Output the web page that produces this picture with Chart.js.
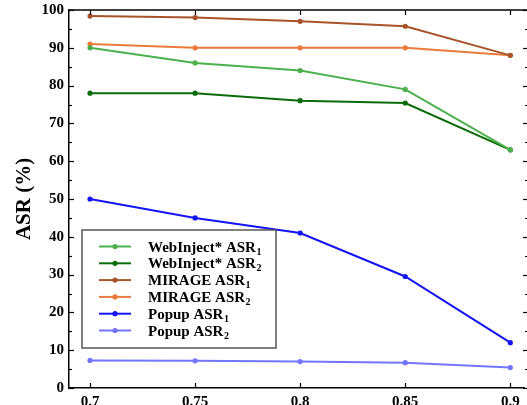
<!DOCTYPE html>
<html><head><meta charset="utf-8">
<script src="https://cdn.jsdelivr.net/npm/chart.js@4"></script>
<style>html,body{margin:0;padding:0;background:#fff;}#wrap{width:527px;height:405px;}</style>
</head><body><div id="wrap"><canvas id="c" width="527" height="405"></canvas></div>
<script>
const xValues = [0.7, 0.75, 0.8, 0.85, 0.9];
const xTickLabels = ["0.7", "0.75", "0.8", "0.85", "0.9"];
const yTickValues = [0, 10, 20, 30, 40, 50, 60, 70, 80, 90, 100];
const seriesLabels = ["WebInject* ASR₁", "WebInject* ASR₂", "MIRAGE ASR₁", "MIRAGE ASR₂", "Popup ASR₁", "Popup ASR₂"];
const webInjectASR1 = [90, 86, 84, 79, 63];
const webInjectASR2 = [78, 78, 76, 75.4, 63];
const mirageASR1 = [98.4, 98, 97, 95.7, 88];
const mirageASR2 = [91, 90, 90, 90, 88];
const popupASR1 = [50, 45, 41, 29.5, 12];
const popupASR2 = [7.3, 7.2, 7, 6.7, 5.4];
const yTitle = "ASR (%)";

const colors = ["#4cb04c", "#0b6b0b", "#a8532a", "#ea7b3c", "#1414f5", "#7474ff"];
const seriesValues = [webInjectASR1, webInjectASR2, mirageASR1, mirageASR2, popupASR1, popupASR2];

const datasets = seriesValues.map((vals, i) => ({
  label: seriesLabels[i],
  data: vals.map((v, j) => ({x: xValues[j], y: v})),
  borderColor: colors[i],
  backgroundColor: colors[i],
  borderWidth: 2,
  pointRadius: 2.6,
  pointHoverRadius: 2.6,
  pointBorderWidth: 0,
  tension: 0
}));

const FONT = '"Liberation Serif", "Times New Roman", serif';

const decor = {
  id: 'decor',
  afterDraw(chart) {
    const ctx = chart.ctx;
    const a = chart.chartArea;
    const xs = chart.scales.x, ys = chart.scales.y;
    const W = chart.width;
    ctx.save();
    ctx.strokeStyle = '#000';
    ctx.lineWidth = 1.5;
    // top spine
    ctx.beginPath(); ctx.moveTo(a.left, a.top); ctx.lineTo(W, a.top); ctx.stroke();
    ctx.lineWidth = 1.2;
    // x ticks (bottom and top), inward
    xValues.forEach(v => {
      const px = Math.round(xs.getPixelForValue(v)) + 0.5;
      ctx.beginPath(); ctx.moveTo(px, a.bottom); ctx.lineTo(px, a.bottom - 5); ctx.stroke();
      ctx.beginPath(); ctx.moveTo(px, a.top); ctx.lineTo(px, a.top + 5); ctx.stroke();
    });
    // y ticks major and minor, left and right
    for (let v = 0; v <= 100; v += 5) {
      const py = Math.round(ys.getPixelForValue(v)) + 0.5;
      const len = (v % 10 === 0) ? 5 : 3;
      ctx.beginPath(); ctx.moveTo(a.left, py); ctx.lineTo(a.left + len, py); ctx.stroke();
      ctx.beginPath(); ctx.moveTo(W, py); ctx.lineTo(W - len + 1, py); ctx.stroke();
    }
    // y axis title
    ctx.fillStyle = '#000';
    ctx.font = 'bold 21px ' + FONT;
    ctx.textAlign = 'center';
    ctx.textBaseline = 'middle';
    ctx.translate(25, (a.top + a.bottom) / 2);
    ctx.rotate(-Math.PI / 2);
    ctx.fillText(yTitle, 0, 0);
    ctx.restore();

    // legend
    ctx.save();
    const bx = a.left + 13, by = a.top + 220, bw = 194, bh = 118;
    ctx.fillStyle = '#fff';
    ctx.fillRect(bx, by, bw, bh);
    ctx.strokeStyle = '#555';
    ctx.lineWidth = 1.5;
    ctx.strokeRect(bx, by, bw, bh);
    const rowH = 16.8;
    chart.data.datasets.forEach((ds, i) => {
      const cy = by + 16.5 + i * rowH;
      ctx.strokeStyle = ds.borderColor;
      ctx.lineWidth = 2;
      ctx.beginPath(); ctx.moveTo(bx + 17, cy); ctx.lineTo(bx + 49, cy); ctx.stroke();
      ctx.fillStyle = ds.borderColor;
      ctx.beginPath(); ctx.arc(bx + 33, cy, 2.6, 0, Math.PI * 2); ctx.fill();
      const lab = ds.label;
      const sub = lab.slice(-1) === '₁' ? '1' : (lab.slice(-1) === '₂' ? '2' : '');
      const base = sub ? lab.slice(0, -1) : lab;
      ctx.fillStyle = '#000';
      ctx.textAlign = 'left';
      ctx.textBaseline = 'alphabetic';
      ctx.font = 'bold 15px ' + FONT;
      const tx = bx + 66;
      ctx.fillText(base, tx, cy + 5);
      const w = ctx.measureText(base).width;
      if (sub) {
        ctx.font = 'bold 10px ' + FONT;
        ctx.fillText(sub, tx + w + 0.5, cy + 8);
      }
    });
    ctx.restore();
  }
};

new Chart(document.getElementById('c'), {
  type: 'line',
  data: { datasets },
  options: {
    responsive: false,
    animation: false,
    devicePixelRatio: 1,
    layout: { padding: { top: 10, right: 0, left: 0, bottom: 0 } },
    plugins: { legend: { display: false }, tooltip: { enabled: false } },
    scales: {
      x: {
        type: 'linear',
        min: 0.69,
        max: 0.9067,
        afterFit: s => { s.height = 17; s.paddingLeft = 0; s.paddingRight = 0; },
        afterBuildTicks: s => { s.ticks = xValues.map(v => ({ value: v })); },
        grid: { display: false, drawTicks: false },
        border: { display: true, color: '#000', width: 1.5 },
        ticks: {
          callback: (v) => { const i = xValues.indexOf(v); return i >= 0 ? xTickLabels[i] : ''; },
          font: { family: FONT, size: 15, weight: 'bold' },
          color: '#000',
          padding: 5,
          maxRotation: 0,
          autoSkip: false
        }
      },
      y: {
        min: 0,
        max: 100,
        afterFit: s => { s.width = 69; s.paddingTop = 0; s.paddingBottom = 0; },
        afterBuildTicks: s => { s.ticks = yTickValues.map(v => ({ value: v })); },
        grid: { display: false, drawTicks: false },
        border: { display: true, color: '#000', width: 1.5 },
        ticks: {
          font: { family: FONT, size: 15, weight: 'bold' },
          color: '#000',
          padding: 5
        }
      }
    }
  },
  plugins: [decor]
});
</script></body></html>
